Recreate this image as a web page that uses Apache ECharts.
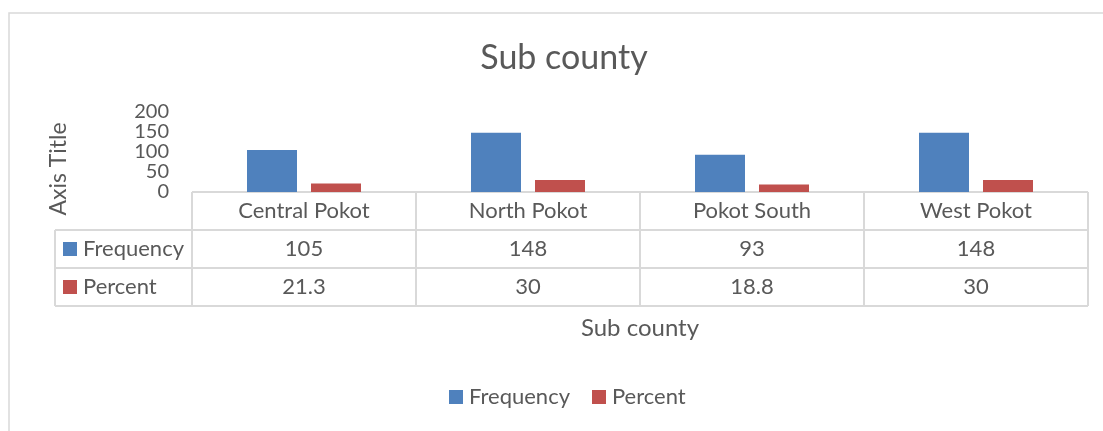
<!DOCTYPE html>
<html>
<head>
<meta charset="utf-8">
<script src="https://cdn.jsdelivr.net/npm/echarts@6/dist/echarts.min.js"></script>
<style>html,body{margin:0;padding:0;background:#fff;}#c{width:1103px;height:431px;}</style>
</head>
<body>
<div id="c"></div>
<script>
const categories = ['Central Pokot', 'North Pokot', 'Pokot South', 'West Pokot'];
const frequency = [105, 148, 93, 148];
const percent = [21.3, 30, 18.8, 30];
const seriesNames = ['Frequency', 'Percent'];
const seriesColors = ['#4F81BD', '#C0504D'];
const yTicks = [0, 50, 100, 150, 200];

const FONT = 'Lato';
const TXT = '#595959';
const BORDER = '#D9D9D9';
const ROW_H = 38;
const TABLE_LEFT = 55;
const FS = 22;

const chart = echarts.init(document.getElementById('c'), null, {renderer: 'canvas'});

function rowAxis(idx, data, showName) {
  return {
    type: 'category', data: data, position: 'bottom', gridIndex: 0,
    offset: idx * ROW_H,
    axisLine: {show: false}, axisTick: {show: false}, splitLine: {show: false},
    axisLabel: {show: true, interval: 0, margin: ROW_H / 2, verticalAlign: 'middle',
      fontFamily: FONT, fontSize: FS, color: TXT},
    name: showName ? 'Sub county' : '', nameLocation: 'middle', nameGap: 60,
    nameTextStyle: {fontFamily: FONT, fontSize: 24, color: TXT, verticalAlign: 'middle'}
  };
}

const option = {
  animation: false,
  backgroundColor: '#fff',
  textStyle: {fontFamily: FONT},
  title: {text: 'Sub county', left: 559, top: 36, textAlign: 'center',
    textStyle: {fontFamily: FONT, fontSize: 34, fontWeight: 'normal', color: TXT}},
  legend: {data: seriesNames, left: 449, top: 386, padding: 0, icon: 'rect', itemWidth: 14, itemHeight: 14,
    itemGap: 22, textStyle: {fontFamily: FONT, fontSize: FS, color: TXT, padding: [0, 0, 0, 1]}},
  grid: {left: 192, right: 15, top: 112, height: 80, containLabel: false},
  xAxis: [
    rowAxis(0, categories, false),
    rowAxis(1, frequency.map(String), false),
    rowAxis(2, percent.map(String), true)
  ],
  yAxis: {
    type: 'value', min: yTicks[0], max: yTicks[yTicks.length - 1], interval: 50,
    axisLine: {show: false}, axisTick: {show: false}, splitLine: {show: false},
    axisLabel: {margin: 23, fontFamily: FONT, fontSize: 20, color: TXT},
    name: 'Axis Title', nameLocation: 'middle', nameGap: 122, nameRotate: 90,
    nameTextStyle: {fontFamily: FONT, fontSize: 23, color: TXT, padding: [0, 34, 0, 0]}
  },
  series: [
    {name: seriesNames[0], type: 'bar', data: frequency, xAxisIndex: 0, barWidth: 50, barGap: '28%',
      itemStyle: {color: seriesColors[0]}},
    {name: seriesNames[1], type: 'bar', data: percent, xAxisIndex: 0, barWidth: 50, barGap: '28%',
      itemStyle: {color: seriesColors[1]}}
  ]
};
chart.setOption(option);

// Build data-table borders and row headers from the axis scale
const c0 = chart.convertToPixel({xAxisIndex: 0}, 0);
const c1 = chart.convertToPixel({xAxisIndex: 0}, 1);
const catW = c1 - c0;
const baseY = chart.convertToPixel({yAxisIndex: 0}, 0);
const leftX = c0 - catW / 2;
const rightX = leftX + catW * categories.length;
const g = [];
const ls = {stroke: BORDER, lineWidth: 2};
g.push({type: 'rect', shape: {x: 9, y: 13, width: 1120, height: 500}, style: {fill: null, stroke: BORDER, lineWidth: 1.5}, z: -10});
g.push({type: 'line', shape: {x1: leftX, y1: baseY, x2: rightX, y2: baseY}, style: ls});
for (let r = 1; r <= 3; r++) {
  g.push({type: 'line', shape: {x1: TABLE_LEFT, y1: baseY + r * ROW_H, x2: rightX, y2: baseY + r * ROW_H}, style: ls});
}
for (let i = 0; i <= categories.length; i++) {
  const x = leftX + i * catW;
  g.push({type: 'line', shape: {x1: x, y1: baseY, x2: x, y2: baseY + 3 * ROW_H}, style: ls});
}
g.push({type: 'line', shape: {x1: TABLE_LEFT, y1: baseY + ROW_H, x2: TABLE_LEFT, y2: baseY + 3 * ROW_H}, style: ls});
for (let s = 0; s < seriesNames.length; s++) {
  const cy = baseY + (s + 1.5) * ROW_H;
  g.push({type: 'rect', shape: {x: TABLE_LEFT + 8, y: cy - 7, width: 14, height: 14}, style: {fill: seriesColors[s]}});
  g.push({type: 'text', x: TABLE_LEFT + 28, y: cy, style: {text: seriesNames[s], fontFamily: FONT, fontSize: FS,
    fill: TXT, verticalAlign: 'middle', align: 'left'}});
}
chart.setOption({graphic: g});
</script>
</body>
</html>
